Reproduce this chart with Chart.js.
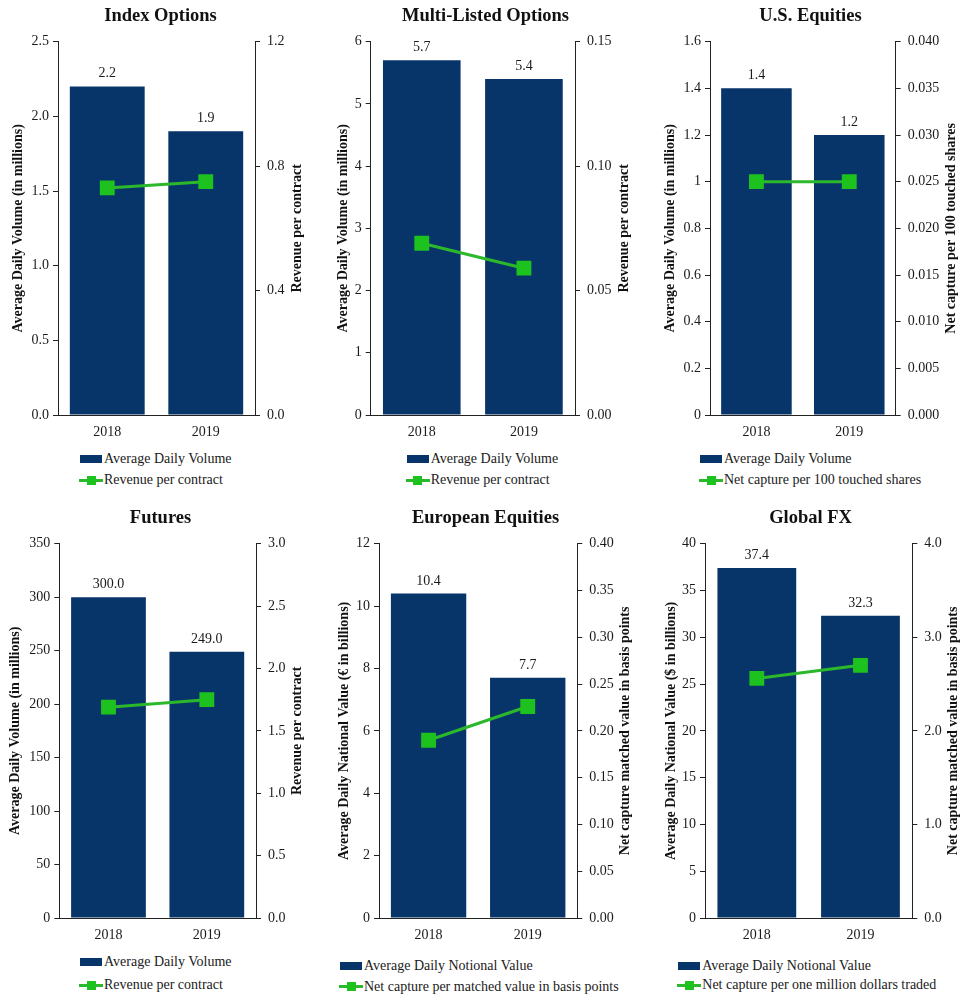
<!DOCTYPE html>
<html><head><meta charset="utf-8">
<script src="https://cdn.jsdelivr.net/npm/chart.js@4.4.1/dist/chart.umd.min.js"></script>
<style>
html,body{margin:0;padding:0;background:#fff;}
body{width:971px;height:1005px;overflow:hidden;position:relative;font-family:"Liberation Serif","Times New Roman",serif;}
.panel{position:absolute;}
.legend{position:absolute;font-size:14px;color:#1a1a1a;white-space:nowrap;}
.lrow{position:absolute;left:0;height:16px;display:flex;align-items:center;transform:translateY(-50%);}
.sw{display:inline-block;position:relative;margin-right:2px;}
</style></head><body>
<script>
// ---------- data ----------
const titles = ['Index Options','Multi-Listed Options','U.S. Equities','Futures','European Equities','Global FX'];
const categories = ['2018','2019'];
const barValues = [[2.2,1.9],[5.7,5.4],[1.4,1.2],[300.0,249.0],[10.4,7.7],[37.4,32.3]];
const lineValues = [[0.73,0.75],[0.069,0.059],[0.025,0.025],[1.69,1.75],[0.19,0.226],[2.56,2.70]];
const barSeriesNames = ['Average Daily Volume','Average Daily Volume','Average Daily Volume','Average Daily Volume','Average Daily Notional Value','Average Daily Notional Value'];
const lineSeriesNames = ['Revenue per contract','Revenue per contract','Net capture per 100 touched shares','Revenue per contract','Net capture per matched value in basis points','Net capture per one million dollars traded'];
const leftAxisTitles = ['Average Daily Volume (in millions)','Average Daily Volume (in millions)','Average Daily Volume (in millions)','Average Daily Volume (in millions)','Average Daily National Value (€ in billions)','Average Daily National Value ($ in billions)'];
const rightAxisTitles = ['Revenue per contract','Revenue per contract','Net capture per 100 touched shares','Revenue per contract','Net capture matched value in basis points','Net capture matched value in basis points'];
const leftTickLabels = [
  ['0.0','0.5','1.0','1.5','2.0','2.5'],
  ['0','1','2','3','4','5','6'],
  ['0','0.2','0.4','0.6','0.8','1','1.2','1.4','1.6'],
  ['0','50','100','150','200','250','300','350'],
  ['0','2','4','6','8','10','12'],
  ['0','5','10','15','20','25','30','35','40']
];
const rightTickLabels = [
  ['0.0','0.4','0.8','1.2'],
  ['0.00','0.05','0.10','0.15'],
  ['0.000','0.005','0.010','0.015','0.020','0.025','0.030','0.035','0.040'],
  ['0.0','0.5','1.0','1.5','2.0','2.5','3.0'],
  ['0.00','0.05','0.10','0.15','0.20','0.25','0.30','0.35','0.40'],
  ['0.0','1.0','2.0','3.0','4.0']
];

// ---------- layout / style ----------
const W = 321;
const panelLeft = [0,325,650,0,325,650];
const panelTop = [0,0,0,502,502,502];
const panelH = [445,445,445,446,446,446];
const axisLeftX = [58,45.7,60,59.3,54,55];
const axisRightX = [255,250,245.7,256,252.3,262.3];
const leftTitleX = [18,18.3,20,15,19.3,21.7];
const rightTitleX = [297.7,299,301.7,297.7,300,303.3];
const legendX = [80,81.7,50,80,15,28.3];
const legendRowY = [[459,480],[459,480],[459,480],[962,985],[966,986.5],[966,985]];
const BAR = '#07356A', LINE = '#2BB82B', MARK = '#1EC21E', AX = '#222';
const FONT = '"Liberation Serif","Times New Roman",serif';

const valueLabels = {
  id:'valueLabels',
  afterDatasetsDraw(chart, args, opts){
    const ctx = chart.ctx;
    const ds = chart.data.datasets.findIndex(d=>d.type==='bar');
    const meta = chart.getDatasetMeta(ds);
    ctx.save();
    ctx.font = '14px ' + FONT;
    ctx.fillStyle = '#1a1a1a';
    ctx.textAlign = 'center';
    ctx.textBaseline = 'alphabetic';
    meta.data.forEach((el,j)=>{
      ctx.fillText(chart.data.datasets[ds].data[j].toFixed(1), el.x, el.y - 9);
    });
    ctx.restore();
  }
};
const axisTitles = {
  id:'axisTitles',
  afterDraw(chart, args, opts){
    const ctx = chart.ctx, a = chart.chartArea;
    const cy = (a.top + a.bottom)/2;
    ctx.save();
    ctx.font = 'bold 14px ' + FONT;
    ctx.fillStyle = '#111';
    ctx.textAlign = 'center';
    ctx.textBaseline = 'middle';
    [[opts.lx, opts.left],[opts.rx, opts.right]].forEach(([x,t])=>{
      ctx.save(); ctx.translate(x, cy); ctx.rotate(-Math.PI/2); ctx.fillText(t, 0, 0); ctx.restore();
    });
    ctx.restore();
  }
};

function tickScale(labels, position, width, pad){
  return {
    type:'linear', position,
    min: parseFloat(labels[0]), max: parseFloat(labels[labels.length-1]),
    afterBuildTicks: s => { s.ticks = labels.map(l=>({value: parseFloat(l)})); },
    afterFit: s => { s.width = width; },
    grid:{display:true, drawOnChartArea:false, drawTicks:true, tickLength:5, color:AX, lineWidth:1},
    border:{display:true, color:AX, width:1},
    ticks:{padding:pad, color:'#1a1a1a', font:{family:FONT, size:14}, callback:(v,i)=>labels[i]}
  };
}

for (let i=0;i<6;i++){
  const c = document.createElement('canvas');
  c.className='panel';
  c.style.left = panelLeft[i]+'px'; c.style.top = panelTop[i]+'px';
  c.style.width = W+'px'; c.style.height = panelH[i]+'px';
  c.width = W; c.height = panelH[i];
  document.body.appendChild(c);

  new Chart(c, {
    data:{
      labels: categories,
      datasets:[
        {type:'line', label: lineSeriesNames[i], data: lineValues[i], yAxisID:'y1', order:0,
         borderColor: LINE, borderWidth:3, backgroundColor: MARK, pointStyle:'rect',
         pointRadius:10.5, pointBorderWidth:0, pointBackgroundColor: MARK, tension:0},
        {type:'bar', label: barSeriesNames[i], data: barValues[i], yAxisID:'y', order:1,
         backgroundColor: BAR, borderWidth:0, barPercentage:0.76, categoryPercentage:1.0}
      ]
    },
    options:{
      responsive:false, animation:false, devicePixelRatio:1,
      layout:{padding:0},
      plugins:{
        legend:{display:false}, tooltip:{enabled:false},
        title:{display:true, text: titles[i], color:'#111', font:{family:FONT, size:18.5, weight:'bold'}, padding:{top:5,bottom:14.5}},
        axisTitles:{left:leftAxisTitles[i], right:rightAxisTitles[i], lx:leftTitleX[i], rx:rightTitleX[i]}
      },
      scales:{
        x:{type:'category', offset:true,
           afterFit: s => { s.height = 30; },
           grid:{display:false, drawTicks:false},
           border:{display:true, color:AX, width:1},
           ticks:{padding:9, color:'#1a1a1a', font:{family:FONT, size:14}}},
        y: tickScale(leftTickLabels[i], 'left', axisLeftX[i], 4),
        y1: tickScale(rightTickLabels[i], 'right', W - axisRightX[i], 7)
      }
    },
    plugins:[valueLabels, axisTitles]
  });

  // legend (HTML), built from the dataset names and colours
  const lg = document.createElement('div');
  lg.className='legend';
  lg.style.left = (panelLeft[i] + legendX[i]) + 'px';
  lg.style.top = '0px';
  const r1 = document.createElement('div'); r1.className='lrow'; r1.style.top = legendRowY[i][0]+'px';
  r1.innerHTML = '<span class="sw" style="width:22px;height:8px;background:'+BAR+';margin-right:2px"></span><span>'+barSeriesNames[i]+'</span>';
  const r2 = document.createElement('div'); r2.className='lrow'; r2.style.top = legendRowY[i][1]+'px'; r2.style.left='-1px';
  r2.innerHTML = '<span class="sw" style="width:24px;height:10px;margin-right:1px">'+
    '<span style="position:absolute;left:0;top:3.5px;width:24px;height:3px;background:'+LINE+'"></span>'+
    '<span style="position:absolute;left:7.5px;top:0.5px;width:9px;height:9px;background:'+MARK+'"></span></span><span>'+lineSeriesNames[i]+'</span>';
  lg.appendChild(r1); lg.appendChild(r2);
  document.body.appendChild(lg);
}
</script>
</body></html>
